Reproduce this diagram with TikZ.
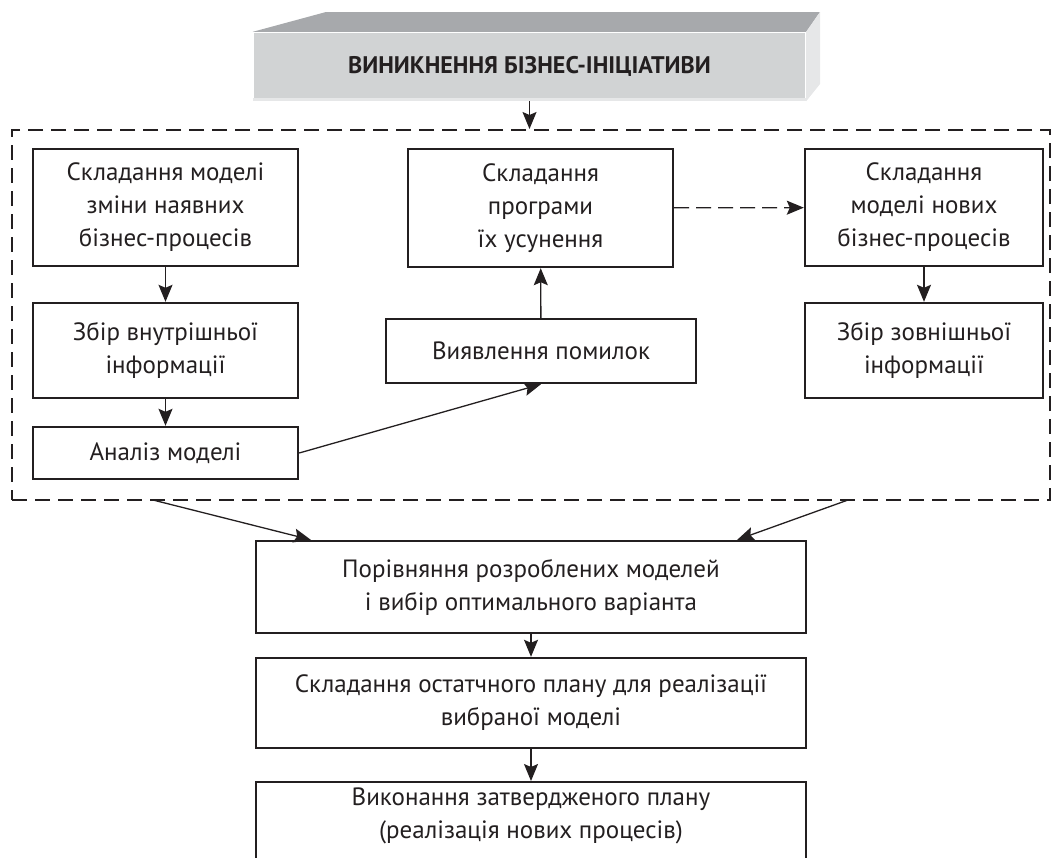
\documentclass[tikz,border=0pt]{standalone}
\usepackage{fontspec}
\setmainfont{PT Sans}
\usetikzlibrary{arrows.meta}
\definecolor{ink}{HTML}{231F20}
\definecolor{frontc}{HTML}{D1D3D4}
\definecolor{topc}{HTML}{A7A9AC}
\definecolor{sidec}{HTML}{E6E7E8}
\tikzset{
  >={Stealth[length=17pt,width=14pt,inset=3pt]},
  bx/.style={draw=ink,line width=2.4pt,align=center,text=ink,inner sep=0pt,font=\fontsize{25}{33}\selectfont},
  fr/.style={draw=ink,line width=2pt,dash pattern=on 15pt off 8pt,inner sep=0pt},
  ar/.style={->,draw=ink,line width=1.3pt},
}

\begin{document}
\begin{tikzpicture}[x=1pt,y=-1pt]
\useasboundingbox (0,0) rectangle (1060,857);
\node[bx,draw=none,fill=frontc,minimum width=551,minimum height=67,font=\fontsize{24}{30}\selectfont\bfseries] (ini) at (529.5,66.5) {ВИНИКНЕННЯ БІЗНЕС-ІНІЦІАТИВИ};
\fill[topc] (ini.north west) -- (326,12) -- (820,12) -- (ini.north east) -- cycle;
\fill[sidec] (ini.north east) -- (820,12) -- (820,84) -- (ini.south east) -- cycle;
\fill[sidec] (ini.south west) rectangle ([yshift=3pt]ini.south east);
\node[fr,minimum width=1038,minimum height=370] (fr) at (531,315) {};
\node[bx,minimum width=265,minimum height=117] (m1) at (165.5,207.5) {Складання моделі\\зміни наявних\\бізнес-процесів};
\node[bx,minimum width=265,minimum height=95] (z1) at (165.5,350.5) {Збір внутрішньої\\інформації};
\node[bx,minimum width=265,minimum height=52] (an) at (165.5,453) {Аналіз моделі};
\node[bx,minimum width=265,minimum height=118] (pr) at (540.5,208) {Складання\\програми\\їх усунення};
\node[bx,minimum width=310,minimum height=64] (vy) at (541,351) {Виявлення помилок};
\node[bx,minimum width=238,minimum height=117] (m2) at (924,207.5) {Складання\\моделі нових\\бізнес-процесів};
\node[bx,minimum width=238,minimum height=95] (z2) at (924,350.5) {Збір зовнішньої\\інформації};
\node[bx,minimum width=550,minimum height=92] (cmp) at (531,587) {Порівняння розроблених моделей\\і вибір оптимального варіанта};
\node[bx,minimum width=550,minimum height=90] (pl) at (531,703) {Складання остатчного плану для реалізації\\вибраної моделі};
\node[bx,minimum width=550,anchor=north,inner ysep=6pt,text depth=60pt] (fin) at (531,781) {Виконання затвердженого плану\\(реалізація нових процесів)};
\coordinate (fl) at (153,500); \coordinate (frr) at (848,500);
\draw[ar] (ini.south) -- (ini.south |- fr.north);
\draw[ar] (m1) -- (z1); \draw[ar] (z1) -- (an); \draw[ar] (m2) -- (z2);
\draw[ar] (an.east) -- (vy.south); \draw[ar] (vy) -- (pr);
\draw[ar,dash pattern=on 15pt off 7pt] (pr) -- (m2);
\draw[ar] (fl) -- ([xshift=56pt]cmp.north west); \draw[ar] (frr) -- ([xshift=-70pt]cmp.north east);
\draw[ar] (cmp) -- (pl); \draw[ar] (pl) -- (fin);
\end{tikzpicture}
\end{document}
